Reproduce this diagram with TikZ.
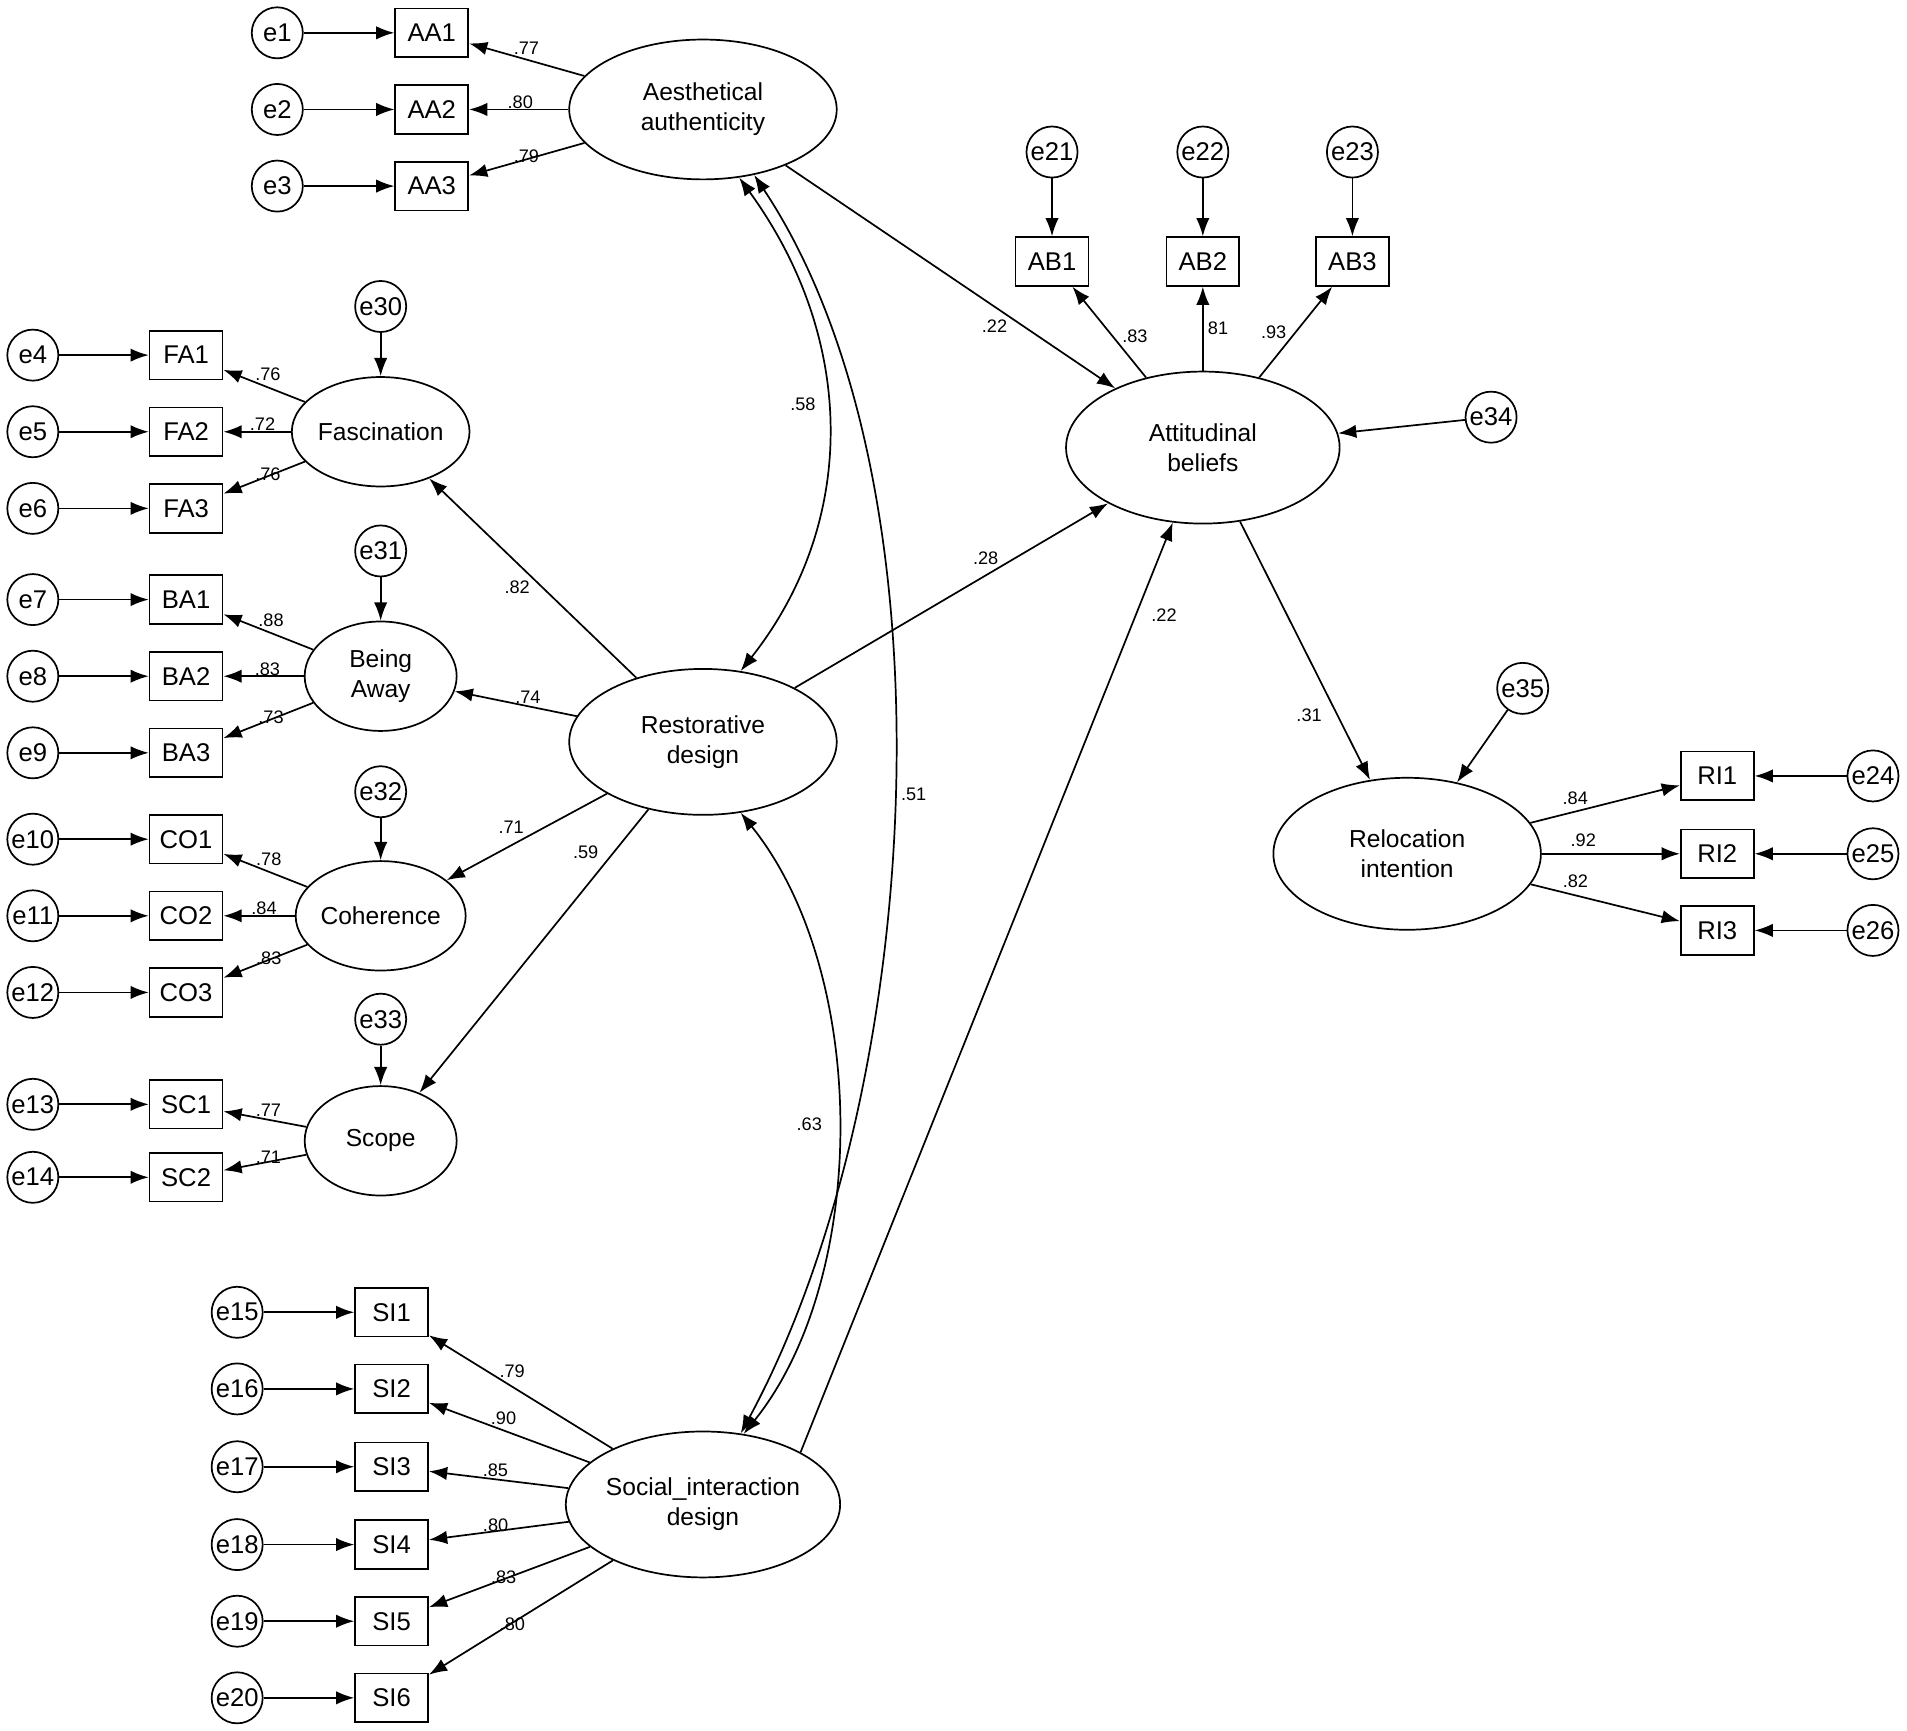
\documentclass[tikz,border=0pt]{standalone}
\usepackage{fontspec}
\setmainfont{Liberation Sans}
\usetikzlibrary{arrows.meta,shapes.geometric}
\tikzset{>={Latex[length=3mm,width=2.2mm]}}
\begin{document}
\begin{tikzpicture}[x=0.02cm,y=-0.02cm,
  err/.style={circle,draw,thick,minimum size=0.84cm,inner sep=0pt,font=\fontsize{12}{14}\selectfont},
  obs/.style={rectangle,draw,thick,minimum width=1.2cm,minimum height=0.8cm,inner sep=0pt,font=\fontsize{12}{14}\selectfont},
  lat/.style={ellipse,draw,thick,align=center,inner sep=0pt,font=\fontsize{11.5}{14}\selectfont},
  coef/.style={font=\fontsize{8.5}{10}\selectfont,inner sep=1pt},
  path/.style={->,thick}, cov/.style={<->,thick}]
\useasboundingbox (0,0) rectangle (1568,1423);
% latent variables
\node[lat,minimum width=4.4cm,minimum height=2.3cm] (aa) at (578,90) {Aesthetical\\authenticity};
\node[lat,minimum width=4.4cm,minimum height=2.4cm] (rd) at (578,610) {Restorative\\design};
\node[lat,minimum width=4.4cm,minimum height=2.4cm] (si) at (578,1237) {Social\_interaction\\design};
\node[lat,minimum width=4.5cm,minimum height=2.5cm] (ab) at (989,368) {Attitudinal\\beliefs};
\node[lat,minimum width=4.4cm,minimum height=2.5cm] (ri) at (1157,702) {Relocation\\intention};
\node[lat,minimum width=2.5cm,minimum height=1.8cm] (fa) at (313,355) {Fascination};
\node[lat,minimum width=2.5cm,minimum height=1.8cm] (ba) at (313,556) {Being\\Away};
\node[lat,minimum width=2.5cm,minimum height=1.8cm] (co) at (313,753) {Coherence};
\node[lat,minimum width=2.5cm,minimum height=1.8cm] (sc) at (313,938) {Scope};
% disturbances
\foreach \n/\x/\y/\t in {e30/313/252/fa, e31/313/453/ba, e32/313/651/co, e33/313/838/sc, e34/1226/343/ab, e35/1252/566/ri}
  \node[err] (\n) at (\x,\y) {\n};
\foreach \n/\t in {e30/fa, e31/ba, e32/co, e33/sc, e34/ab, e35/ri}
  \draw[path] (\n) -- (\t);
% indicators
\foreach \o/\e/\x/\ex/\y/\l/\c in {
  AA1/e1/355/228/27/aa/.77, AA2/e2/355/228/90/aa/.80, AA3/e3/355/228/153/aa/.79,
  FA1/e4/153/27/292/fa/.76, FA2/e5/153/27/355/fa/.72, FA3/e6/153/27/418/fa/.76,
  BA1/e7/153/27/493/ba/.88, BA2/e8/153/27/556/ba/.83, BA3/e9/153/27/619/ba/.73,
  CO1/e10/153/27/690/co/.78, CO2/e11/153/27/753/co/.84, CO3/e12/153/27/816/co/.83,
  SC1/e13/153/27/908/sc/.77, SC2/e14/153/27/968/sc/.71,
  SI1/e15/322/195/1079/si/.79, SI2/e16/322/195/1142/si/.90, SI3/e17/322/195/1206/si/.85,
  SI4/e18/322/195/1270/si/.80, SI5/e19/322/195/1333/si/.83, SI6/e20/322/195/1396/si/.80}
{
  \node[obs] (\o) at (\x,\y) {\o};
  \node[err] (\e) at (\ex,\y) {\e};
  \draw[path] (\e) -- (\o);
  \draw[path] (\l) -- node[coef,pos=0.62,above right=-1pt] {\c} (\o);
}
\foreach \o/\e/\x/\c in {AB1/e21/865/.83, AB2/e22/989/81, AB3/e23/1112/.93}
{
  \node[obs] (\o) at (\x,215) {\o};
  \node[err] (\e) at (\x,125) {\e};
  \draw[path] (\e) -- (\o);
}
\draw[path] (ab) -- node[coef,pos=0.45,right=3pt] {.83} (AB1);
\draw[path] (ab) -- node[coef,pos=0.5,right=1pt] {81} (AB2);
\draw[path] (ab) -- node[coef,pos=0.5,left=3pt] {.93} (AB3);
\foreach \o/\e/\y/\c in {RI1/e24/638/.84, RI2/e25/702/.92, RI3/e26/765/.82}
{
  \node[obs] (\o) at (1412,\y) {\o};
  \node[err] (\e) at (1540,\y) {\e};
  \draw[path] (\e) -- (\o);
  \draw[path] (ri) -- node[coef,pos=0.3,above=2pt] {\c} (\o);
}
% structural paths
\draw[path] (aa) -- node[coef,pos=0.72,left=6pt] {.22} (ab);
\draw[path] (rd) -- node[coef,pos=0.7,left=6pt] {.28} (ab);
\draw[path] (si.north east) -- node[coef,pos=0.9,right=6pt] {.22} (ab);
\draw[path] (ab) -- node[coef,pos=0.75,left=6pt] {.31} (ri);
\draw[path] (rd) -- node[coef,pos=0.5,below left] {.82} (fa);
\draw[path] (rd) -- node[coef,pos=0.4,above] {.74} (ba);
\draw[path] (rd) -- node[coef,pos=0.5,above left] {.71} (co);
\draw[path] (rd) -- node[coef,pos=0.15,left=6pt] {.59} (sc);
% covariances
\draw[cov] (aa.-62) .. controls (705,280) and (705,430) .. node[coef,pos=0.45,left=4pt] {.58} (rd.62);
\draw[cov] (aa.-52) .. controls (790,400) and (760,900) .. node[coef,pos=0.5,right=2pt] {.51} (si.62);
\draw[cov] (rd.-62) .. controls (715,800) and (715,1050) .. node[coef,pos=0.5,left=6pt] {.63} (si.60);
\end{tikzpicture}
\end{document}
